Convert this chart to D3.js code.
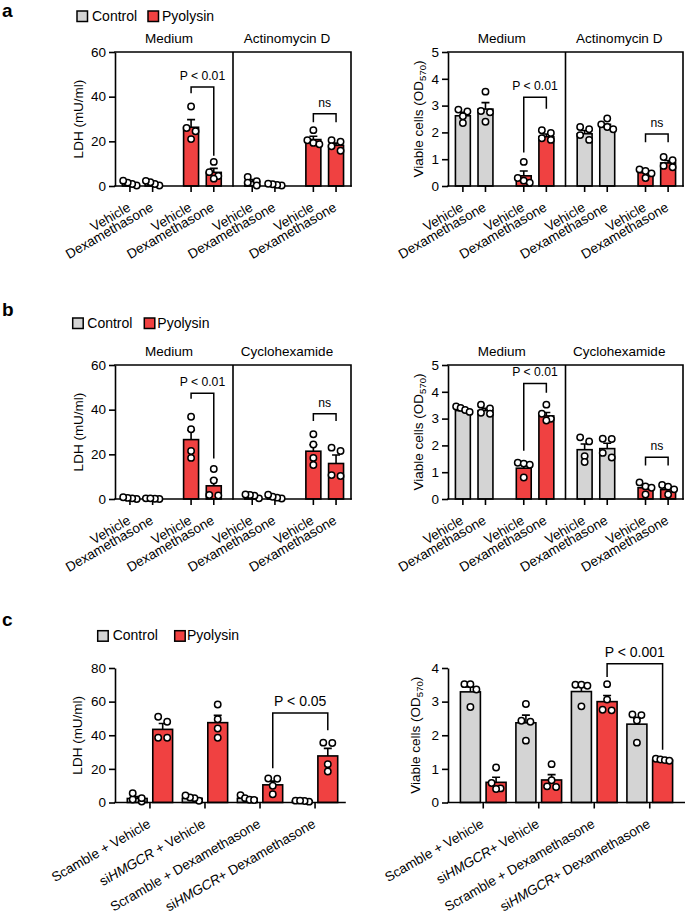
<!DOCTYPE html>
<html><head><meta charset="utf-8">
<script src="https://cdn.jsdelivr.net/npm/d3@7"></script>
<style>
body{margin:0;background:#fff}
svg{display:block}
text{font-family:"Liberation Sans",Arial,Helvetica,sans-serif;fill:#000}
</style>
</head><body>
<svg id="chart" width="685" height="914"></svg>
<script>
// ---------------- DATA ----------------
const treatments = ["Vehicle", "Dexamethasone"];
const toxins = ["Control", "Pyolysin"];
const aConditions = ["Medium", "Actinomycin D"];
const bConditions = ["Medium", "Cyclohexamide"];
const cLdhGroups = ["Scamble + Vehicle", "si*HMGCR* + Vehicle", "Scramble + Dexamethasone", "si*HMGCR*+ Dexamethasone"];
const cViableGroups = ["Scamble + Vehicle", "si*HMGCR*+ Vehicle", "Scramble + Dexamethasone", "si*HMGCR*+ Dexamethasone"];

const ldhTicksAB = [0, 20, 40, 60];
const viableTicksAB = [0, 1, 2, 3, 4, 5];
const ldhTicksC = [0, 20, 40, 60, 80];
const viableTicksC = [0, 1, 2, 3, 4];

// order a/b: [cond1: Control-Veh, Control-Dex, Pyolysin-Veh, Pyolysin-Dex, cond2: ...]
const aLdhMean = [1.0, 1.2, 26.3, 6.1, 2.0, 0.6, 20.8, 18.2];
const aLdhSem  = [0.5, 0.5, 3.4, 1.8, 0.9, 0.2, 1.5, 1.0];
const aLdhPoints = [[0.2,0.9,1.5,2.4],[0.2,0.9,1.7,2.3],[35.6,26,24.5,21],[10.8,6.2,4.5,3.3],
                    [4.0,2.2,1.5,0.2],[0.2,0.5,0.8,1.0],[25,20.5,19.3,18.7],[20.5,19.8,17.8,15.8]];
const aLdhBrackets = [{from:2,to:3,top:44.3,left:41.5,right:13.5,label:"P < 0.01"},
                      {from:6,to:7,top:32.3,left:28.5,right:28.5,label:"ns"}];

const aViableMean = [2.62, 2.87, 0.38, 1.84, 1.95, 2.2, 0.5, 0.86];
const aViableSem  = [0.13, 0.24, 0.18, 0.10, 0.12, 0.10, 0.07, 0.09];
const aViablePoints = [[2.85,2.78,2.6,2.35],[3.52,2.8,2.75,2.4],[0.9,0.3,0.2,0.12],[2.08,1.98,1.78,1.72],
                       [2.2,2.12,1.9,1.72],[2.52,2.3,2.2,2.12],[0.62,0.56,0.47,0.3],[1.08,0.96,0.75,0.7]];
const aViableBrackets = [{from:2,to:3,top:3.31,left:1.25,right:2.88,label:"P < 0.01"},
                         {from:6,to:7,top:1.94,left:1.63,right:1.63,label:"ns"}];

const bLdhMean = [0.4, 0.2, 26.6, 5.9, 1.2, 0.9, 21.4, 15.9];
const bLdhSem  = [0.2, 0.1, 4.3, 2.8, 0.4, 0.4, 2.9, 3.8];
const bLdhPoints = [[0.0,0.3,0.5,0.8],[0.0,0.1,0.3,0.3],[36.8,31.2,21.5,18.4],[13.4,8.3,1.8,1.6],
                    [0.3,1.5,1.8,2.0],[0.2,0.6,1.0,1.9],[29,24.4,18.4,15.2],[23,21.5,10.7,10.3]];
const bLdhBrackets = [{from:2,to:3,top:47.4,left:44.9,right:18.1,label:"P < 0.01"},
                      {from:6,to:7,top:38.2,left:34.9,right:34.9,label:"ns"}];

const bViableMean = [3.3, 3.3, 1.15, 3.1, 1.84, 1.88, 0.42, 0.35];
const bViableSem  = [0.05, 0.08, 0.12, 0.13, 0.21, 0.2, 0.08, 0.07];
const bViablePoints = [[3.45,3.4,3.32,3.25],[3.52,3.38,3.22,3.18],[1.35,1.32,1.28,0.8],[3.52,3.18,2.99,2.93],
                       [2.3,2.15,1.6,1.38],[2.25,2.24,1.72,1.55],[0.62,0.47,0.42,0.17],[0.52,0.46,0.36,0.17]];
const bViableBrackets = [{from:2,to:3,top:4.31,left:1.8,right:3.96,label:"P < 0.01"},
                         {from:6,to:7,top:1.56,left:1.25,right:1.25,label:"ns"}];

// order c: [group1: Control, Pyolysin, group2: ...]
const cLdhMean = [2.4, 43.5, 2.5, 47.5, 2.5, 10.5, 0.9, 27.7];
const cLdhSem  = [1.1, 3.5, 0.8, 4.3, 0.7, 2.2, 0.2, 4.5];
const cLdhPoints = [[0.6,1.8,2.6,5.5],[51,48,38.5,38.5],[1.0,2.6,3.0,4.2],[58.3,49.5,44,38.5],
                    [4.4,2.6,1.6,1.5],[14.3,14.1,10.0,4.9],[0.5,0.9,1.1,1.1],[35.6,35.4,22.8,18.4]];
const cLdhBrackets = [{from:5,to:7,top:53.3,left:20.3,right:43,label:"P < 0.05"}];

const cViableMean = [3.29, 0.6, 2.37, 0.67, 3.3, 3.0, 2.33, 1.26];
const cViableSem  = [0.15, 0.15, 0.23, 0.16, 0.15, 0.18, 0.17, 0.02];
const cViablePoints = [[3.52,3.52,3.36,2.84],[1.04,0.58,0.42,0.4],[2.93,2.43,2.4,1.84],[1.14,0.66,0.48,0.46],
                       [3.5,3.5,3.47,2.86],[3.52,3.06,2.76,2.74],[2.62,2.6,2.44,1.78],[1.3,1.28,1.26,1.24]];
const cViableBrackets = [{from:5,to:7,top:4.13,left:3.73,right:1.57,label:"P < 0.001"}];

// ---------------- DRAWING ----------------
const COLOR = {Control: "#d4d4d4", Pyolysin: "#f04141"};
const LW = 1.6;
const svg = d3.select("#chart");

function addRich(sel, str) {
  str.split("*").forEach((part, i) => {
    if (!part) return;
    const t = sel.append("tspan").text(part);
    if (i % 2 === 1) t.attr("font-style", "italic");
  });
}

function spread(vals, y) {
  const idx = vals.map((v, i) => i).sort((a, b) => vals[b] - vals[a]);
  const rows = [];
  idx.forEach(i => {
    const py = y(vals[i]);
    const last = rows[rows.length - 1];
    if (last && Math.abs(py - last.y0) < 5.5) last.items.push(i);
    else rows.push({y0: py, items: [i]});
  });
  const off = vals.map(() => 0);
  rows.forEach(r => {
    const n = r.items.length;
    const sp = n === 2 ? 9 : (n === 3 ? 6 : 4.5);
    r.items.forEach((i, j) => off[i] = (j - (n - 1) / 2) * sp);
  });
  return off;
}

function drawPanel(cfg) {
  const g = svg.append("g");
  const y = d3.scaleLinear().domain([0, cfg.ymax]).range([cfg.bottom, cfg.top]);
  const outer = d3.scaleBand().domain(cfg.outerDomain).range(cfg.bandRange)
    .paddingInner(cfg.pi).paddingOuter(cfg.po);
  const inner = d3.scaleBand().domain(cfg.innerDomain).range([0, outer.bandwidth()])
    .paddingInner(cfg.pi2).paddingOuter(cfg.po2);
  const bars = cfg.bars.map((b, i) => Object.assign({}, b, {
    mean: cfg.mean[i], sem: cfg.sem[i], pts: cfg.points[i]
  }));
  bars.forEach(b => {
    b.x = outer(b.outer) + inner(b.inner);
    b.cx = b.x + inner.bandwidth() / 2;
  });

  // frame (a/b)
  if (cfg.frame) {
    const c1 = outer(cfg.outerDomain[1]) + outer.bandwidth() / 2;
    const c2 = outer(cfg.outerDomain[2]) + outer.bandwidth() / 2;
    const div = (c1 + c2) / 2;
    g.append("path")
      .attr("d", `M${cfg.x0},${cfg.top}H${cfg.axisEnd}V${cfg.bottom}M${div},${cfg.top}V${cfg.bottom}`)
      .attr("fill", "none").attr("stroke", "#000").attr("stroke-width", LW).attr("stroke-linecap", "square");
    const halves = [[cfg.x0, div], [div, cfg.axisEnd]];
    cfg.groupLabels.forEach((lab, i) => {
      g.append("text").attr("x", (halves[i][0] + halves[i][1]) / 2 - 5).attr("y", cfg.top - 9)
        .attr("text-anchor", "middle").attr("font-size", 13.5).text(lab);
    });
  }

  // bars
  g.selectAll("rect.bar").data(bars).join("rect").attr("class", "bar")
    .attr("x", d => d.x).attr("width", inner.bandwidth())
    .attr("y", d => y(d.mean)).attr("height", d => y(0) - y(d.mean))
    .attr("fill", d => COLOR[d.toxin]).attr("stroke", "#000").attr("stroke-width", LW);

  // error bars
  bars.forEach(b => {
    const ye = y(b.mean + b.sem);
    g.append("path").attr("d", `M${b.cx},${y(b.mean)}V${ye}M${b.cx - 4},${ye}H${b.cx + 4}`)
      .attr("stroke", "#000").attr("stroke-width", LW).attr("fill", "none");
  });

  // axes
  const yAxis = d3.axisLeft(y).tickValues(cfg.ticks).tickFormat(d3.format("d"))
    .tickSize(6).tickSizeOuter(0).tickPadding(3);
  const ya = g.append("g").attr("transform", `translate(${cfg.x0},0)`).call(yAxis);
  ya.attr("font-family", null).attr("font-size", null);
  ya.selectAll("path,line").attr("stroke-width", LW);
  ya.selectAll("text").attr("font-size", 13.5);
  g.append("path").attr("d", `M${cfg.x0},${y(0)}H${cfg.axisEnd}`)
    .attr("stroke", "#000").attr("stroke-width", LW).attr("stroke-linecap", "square");

  // x ticks + labels
  cfg.xTicks(bars, outer).forEach(t => {
    g.append("line").attr("x1", t.x).attr("x2", t.x).attr("y1", y(0)).attr("y2", y(0) + 6)
      .attr("stroke", "#000").attr("stroke-width", LW);
    const tx = g.append("text").attr("text-anchor", "end").attr("font-size", 13.5)
      .attr("transform", `translate(${t.x + 1.5},${y(0) + 24}) rotate(${cfg.angle})`);
    addRich(tx, t.label);
  });

  // y label
  const yl = g.append("text").attr("text-anchor", "middle").attr("font-size", 13.5)
    .attr("transform", `translate(${cfg.ylabX},${(cfg.top + cfg.bottom) / 2}) rotate(-90)`);
  if (cfg.viable) {
    yl.append("tspan").text("Viable cells (OD");
    yl.append("tspan").attr("font-size", 9.5).attr("dy", 3).text("570");
    yl.append("tspan").attr("dy", -3).text(")");
  } else {
    yl.text("LDH (mU/ml)");
  }

  // points
  bars.forEach(b => {
    const off = spread(b.pts, y);
    b.pts.forEach((v, i) => {
      g.append("circle").attr("cx", b.cx + off[i]).attr("cy", y(v)).attr("r", 3.2)
        .attr("fill", "#fff").attr("stroke", "#000").attr("stroke-width", 1.5);
    });
  });

  // brackets
  cfg.brackets.forEach(br => {
    const xa = bars[br.from].cx, xb = bars[br.to].cx, yt = y(br.top);
    g.append("path").attr("d", `M${xa},${y(br.left)}V${yt}H${xb}V${y(br.right)}`)
      .attr("fill", "none").attr("stroke", "#000").attr("stroke-width", 1.5);
    g.append("text").attr("x", (xa + xb) / 2).attr("y", yt - 7).attr("text-anchor", "middle")
      .attr("font-size", cfg.pFont).text(br.label);
  });
}

function abBars(conds) {
  const out = [];
  conds.forEach(c => toxins.forEach(t => treatments.forEach(tr =>
    out.push({outer: c + "|" + t, inner: tr, toxin: t}))));
  return out;
}
function abOuter(conds) {
  const out = [];
  conds.forEach(c => toxins.forEach(t => out.push(c + "|" + t)));
  return out;
}
function cBars(groups) {
  const out = [];
  groups.forEach(gr => toxins.forEach(t => out.push({outer: gr, inner: t, toxin: t})));
  return out;
}
const abTicks = (bars) => bars.map(b => ({x: b.cx, label: b.inner}));
const cTicks = (groups) => (bars, outer) => groups.map(gr => ({x: outer(gr) + outer.bandwidth() / 2, label: gr}));

const leftAB = {x0: 115, axisEnd: 351, bandRange: [115, 351], ylabX: 83};
const rightAB = {x0: 448, axisEnd: 683, bandRange: [448, 683], ylabX: 423};
const abPad = {pi: 0.3, po: 0.08, pi2: 0.34, po2: 0.113, frame: true, angle: -30, pFont: 12.2, innerDomain: treatments, xTicks: abTicks};

const rows = [
  {conds: aConditions, top: 52, bottom: 186, ldh: [aLdhMean, aLdhSem, aLdhPoints, aLdhBrackets],
   via: [aViableMean, aViableSem, aViablePoints, aViableBrackets]},
  {conds: bConditions, top: 365, bottom: 499, ldh: [bLdhMean, bLdhSem, bLdhPoints, bLdhBrackets],
   via: [bViableMean, bViableSem, bViablePoints, bViableBrackets]}
];
rows.forEach(r => {
  drawPanel(Object.assign({}, abPad, leftAB, {
    top: r.top, bottom: r.bottom, ymax: 60, ticks: ldhTicksAB, outerDomain: abOuter(r.conds),
    bars: abBars(r.conds), mean: r.ldh[0], sem: r.ldh[1], points: r.ldh[2], brackets: r.ldh[3],
    groupLabels: r.conds, viable: false}));
  drawPanel(Object.assign({}, abPad, rightAB, {
    top: r.top, bottom: r.bottom, ymax: 5, ticks: viableTicksAB, outerDomain: abOuter(r.conds),
    bars: abBars(r.conds), mean: r.via[0], sem: r.via[1], points: r.via[2], brackets: r.via[3],
    groupLabels: r.conds, viable: true}));
});

const cPad = {pi: 0.177, po: 0.2235, pi2: 0.222, po2: 0, frame: false, angle: -30, pFont: 14,
              innerDomain: toxins, top: 668, bottom: 802.5};
drawPanel(Object.assign({}, cPad, {
  x0: 115, axisEnd: 345, bandRange: [115, 350], ylabX: 82, ymax: 80, ticks: ldhTicksC,
  outerDomain: cLdhGroups, bars: cBars(cLdhGroups), xTicks: cTicks(cLdhGroups),
  mean: cLdhMean, sem: cLdhSem, points: cLdhPoints, brackets: cLdhBrackets, viable: false}));
drawPanel(Object.assign({}, cPad, {
  x0: 448, axisEnd: 685, bandRange: [448, 685], ylabX: 420, ymax: 4, ticks: viableTicksC,
  outerDomain: cViableGroups, bars: cBars(cViableGroups), xTicks: cTicks(cViableGroups),
  mean: cViableMean, sem: cViableSem, points: cViablePoints, brackets: cViableBrackets, viable: true}));

// legends
const legends = [
  {y: 11, rx: [77, 148], tx: [92, 162]},
  {y: 318, rx: [72.7, 144.3], tx: [87.3, 157.3]},
  {y: 630.7, rx: [97.7, 174.7], tx: [112.7, 187]}
];
legends.forEach(L => {
  toxins.forEach((t, i) => {
    svg.append("rect").attr("x", L.rx[i]).attr("y", L.y).attr("width", 10.5).attr("height", 10.5)
      .attr("fill", COLOR[t]).attr("stroke", "#000").attr("stroke-width", 1.5);
    svg.append("text").attr("x", L.tx[i]).attr("y", L.y + 9.7).attr("font-size", 14).text(t);
  });
});

// panel letters
[["a", 16.5], ["b", 315.5], ["c", 625.5]].forEach(([l, yy]) => {
  svg.append("text").attr("x", 2).attr("y", yy).attr("font-size", 19).attr("font-weight", "bold").text(l);
});
</script>
</body></html>
